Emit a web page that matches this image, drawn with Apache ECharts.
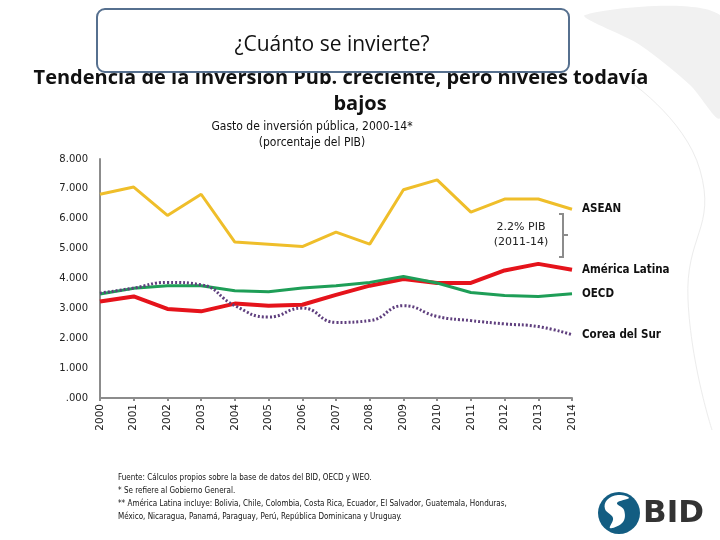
<!DOCTYPE html>
<html>
<head>
<meta charset="utf-8">
<script src="https://cdn.jsdelivr.net/npm/echarts@6/dist/echarts.min.js"></script>
<style>
  html, body { margin: 0; padding: 0; background: #fff; }
  #chart { width: 720px; height: 540px; }
</style>
</head>
<body>
<div id="chart"></div>
<script>
// datos (porcentaje del PIB)
const years = ["2000", "2001", "2002", "2003", "2004", "2005", "2006", "2007",
  "2008", "2009", "2010", "2011", "2012", "2013", "2014"];
const asean = [6.82, 7.06, 6.11, 6.82, 5.22, 5.15, 5.07, 5.55, 5.15, 6.97, 7.30, 6.22, 6.66, 6.66, 6.32];
const americaLatina = [3.23, 3.40, 2.98, 2.90, 3.16, 3.09, 3.12, 3.45, 3.76, 3.98, 3.85, 3.85, 4.27, 4.49, 4.29];
const oecd = [3.48, 3.67, 3.76, 3.76, 3.59, 3.56, 3.68, 3.76, 3.87, 4.07, 3.85, 3.53, 3.43, 3.40, 3.49];
const coreaSur = [3.51, 3.68, 3.87, 3.79, 3.09, 2.71, 3.01, 2.53, 2.59, 3.09, 2.73, 2.59, 2.48, 2.39, 2.12];
const yTicks = [0, 1, 2, 3, 4, 5, 6, 7, 8];

document.addEventListener("DOMContentLoaded", function () {
  const chart = echarts.init(document.getElementById("chart"));
  const font = "'Liberation Sans Narrow', 'DejaVu Sans Condensed', 'Open Sans', sans-serif";

  function serie(name, data, color, width, dotted, smooth) {
    return {
      name: name,
      type: "line",
      data: data,
      smooth: smooth,
      symbol: "none",
      lineStyle: { color: color, width: width, type: dotted ? [2, 2] : "solid" },
      endLabel: {
        show: true,
        formatter: name,
        distance: 10,
        color: "#111",
        fontSize: 11.5,
        fontWeight: "bold",
        fontFamily: font
      }
    };
  }

  const option = {
    backgroundColor: "#fff",
    animation: false,
    grid: { left: 100, right: 148, top: 159, bottom: 142 },
    xAxis: {
      type: "category",
      data: years,
      boundaryGap: false,
      axisLine: { lineStyle: { color: "#8c8c8c", width: 2 } },
      axisTick: { show: true, alignWithLabel: true, length: 3, lineStyle: { color: "#8c8c8c", width: 2 } },
      axisLabel: { rotate: 90, color: "#222", fontSize: 10.5, fontFamily: "'DejaVu Sans', sans-serif", margin: 6 }
    },
    yAxis: {
      type: "value",
      min: yTicks[0],
      max: yTicks[yTicks.length - 1],
      interval: 1,
      splitLine: { show: false },
      axisLine: { show: true, lineStyle: { color: "#8c8c8c", width: 2 } },
      axisTick: { show: false },
      axisLabel: {
        color: "#222",
        fontSize: 10,
        fontFamily: "'DejaVu Sans', sans-serif",
        margin: 12,
        formatter: function (v) { return v === 0 ? ".000" : v.toFixed(3); }
      }
    },
    series: [
      serie("ASEAN", asean, "#EFBE2A", 3, false, false),
      serie("América Latina", americaLatina, "#E5131B", 4, false, false),
      serie("OECD", oecd, "#1E9E57", 3, false, false),
      serie("Corea del Sur", coreaSur, "#5F3F7E", 3, true, true)
    ],
    graphic: [
      // fondo decorativo gris claro
      {
        type: "polygon", z: -10, silent: true,
        shape: { points: [[585, 15], [720, 15], [720, 118], [690, 85], [640, 45]], smooth: 0.3 },
        style: { fill: "#f1f1f1" }
      },
      {
        type: "polyline", z: -10, silent: true,
        shape: { points: [[625, 78], [700, 170], [688, 300], [712, 430]], smooth: 0.5 },
        style: { fill: null, stroke: "#ececec", lineWidth: 1 }
      },
      // títulos
      {
        type: "text", left: "center", top: 94, silent: true,
        style: { text: "bajos", font: "bold 20px 'Open Sans', sans-serif", fill: "#111" }
      },
      {
        type: "text", x: 341, y: 78, silent: true,
        style: {
          text: "Tendencia de la Inversión Pub. creciente, pero niveles todavía",
          font: "bold 20px 'Open Sans', sans-serif", fill: "#111", align: "center", verticalAlign: "middle"
        }
      },
      {
        type: "rect", silent: true,
        shape: { x: 97, y: 9, width: 472, height: 63, r: 8 },
        style: { fill: "#fff", stroke: "#56708f", lineWidth: 2 }
      },
      {
        type: "text", x: 332, y: 45, silent: true,
        style: { text: "¿Cuánto se invierte?", font: "21px 'Open Sans', sans-serif", fill: "#111", align: "center", verticalAlign: "middle" }
      },
      {
        type: "text", x: 312, y: 127, silent: true,
        style: { text: "Gasto de inversión pública, 2000-14*", font: "12px " + font, fill: "#111", align: "center", verticalAlign: "middle" }
      },
      {
        type: "text", x: 312, y: 143, silent: true,
        style: { text: "(porcentaje del PIB)", font: "12px " + font, fill: "#111", align: "center", verticalAlign: "middle" }
      },
      // anotación 2.2% PIB
      {
        type: "text", x: 521, y: 235, silent: true,
        style: { text: "2.2% PIB\n(2011-14)", font: "11px 'DejaVu Sans', sans-serif", fill: "#222", align: "center", verticalAlign: "middle", lineHeight: 15 }
      },
      {
        type: "polyline", silent: true,
        shape: { points: [[559, 214], [563, 214], [563, 257], [559, 257]] },
        style: { stroke: "#8c8c8c", lineWidth: 2, fill: null }
      },
      {
        type: "line", silent: true,
        shape: { x1: 563, y1: 235, x2: 568, y2: 235 },
        style: { stroke: "#8c8c8c", lineWidth: 2 }
      },
      // notas
      {
        type: "text", x: 118, y: 472, silent: true,
        style: {
          text: "Fuente: Cálculos propios sobre la base de datos del BID, OECD y WEO.\n" +
            "* Se refiere al Gobierno General.\n" +
            "** América Latina incluye: Bolivia, Chile, Colombia, Costa Rica, Ecuador, El Salvador, Guatemala, Honduras,\n" +
            "México, Nicaragua, Panamá, Paraguay, Perú, República Dominicana y Uruguay.",
          font: "8px " + font, fill: "#111", lineHeight: 12.7
        }
      },
      // logo BID
      {
        type: "circle", silent: true,
        shape: { cx: 619, cy: 513, r: 21 },
        style: { fill: "#135D82" }
      },
      {
        type: "polygon", silent: true,
        shape: {
          points: [[607, 500], [618, 495], [629, 498], [617, 503], [624, 510], [623, 522], [610, 528], [613, 518], [605, 509]],
          smooth: 0.4
        },
        style: { fill: "#fff" }
      },
      {
        type: "text", x: 643, y: 514, silent: true,
        style: { text: "BID", font: "bold 31px 'DejaVu Sans', sans-serif", fill: "#333", verticalAlign: "middle" }
      }
    ]
  };

  chart.setOption(option);
});
</script>
</body>
</html>
